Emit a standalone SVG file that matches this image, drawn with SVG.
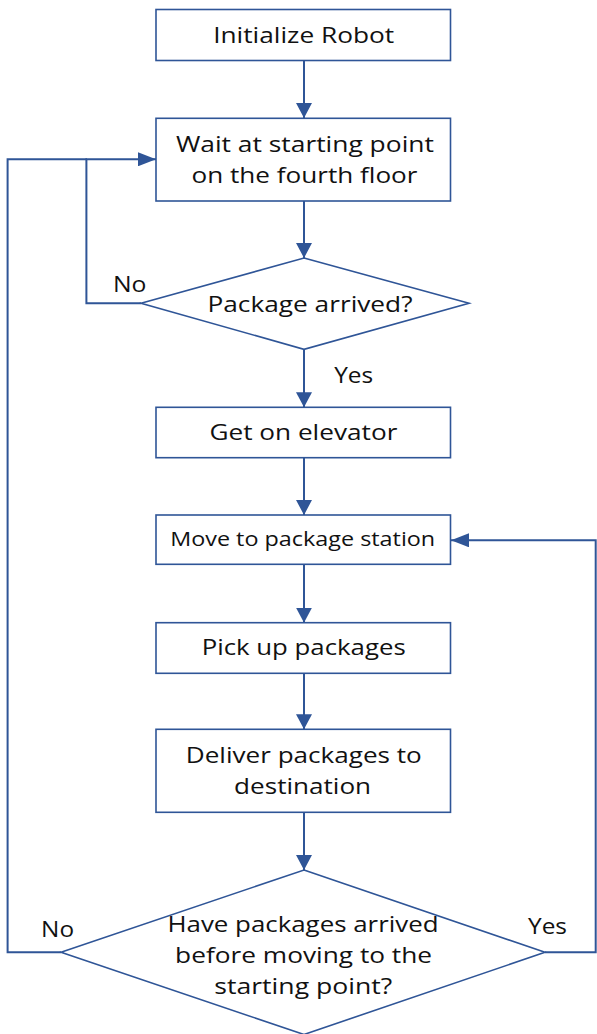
<svg xmlns="http://www.w3.org/2000/svg" width="597" height="1034" viewBox="0 0 597 1034">
<style>
.box{fill:#fff;stroke:#2F5597;stroke-width:1.6}
.ln{fill:none;stroke:#2F5597;stroke-width:2}
.t{font-family:"Open Sans","Noto Sans",sans-serif;font-size:22px;fill:#111}
.s{font-size:20px}
</style>
<defs>
<marker id="aV" markerUnits="userSpaceOnUse" markerWidth="16" markerHeight="16" refX="15" refY="8" orient="auto"><path d="M0,0 L15,8 L0,16 z" fill="#2F5597"/></marker>
<marker id="aH" markerUnits="userSpaceOnUse" markerWidth="18" markerHeight="14" refX="18" refY="7" orient="auto"><path d="M0,0 L18,7 L0,14 z" fill="#2F5597"/></marker>
</defs>
<rect width="597" height="1034" fill="#fff"/>
<g id="connectors">
<path class="ln" d="M304,60.5 V118" marker-end="url(#aV)"/>
<path class="ln" d="M304,201 V258" marker-end="url(#aV)"/>
<path class="ln" d="M304,349.3 V407.3" marker-end="url(#aV)"/>
<path class="ln" d="M304,457.7 V515" marker-end="url(#aV)"/>
<path class="ln" d="M304,564.3 V622.7" marker-end="url(#aV)"/>
<path class="ln" d="M304,673.3 V729.3" marker-end="url(#aV)"/>
<path class="ln" d="M304,812.3 V870" marker-end="url(#aV)"/>
<path class="ln" d="M141,303.3 H86.4 V159.3 H156" marker-end="url(#aH)"/>
<path class="ln" d="M61,952.3 H7.6 V159.3 H87"/>
<path class="ln" d="M545,952.3 H595.7 V540.3 H451" marker-end="url(#aH)"/>
<text class="t" x="113" y="292.3" textLength="33.5" lengthAdjust="spacingAndGlyphs">No</text>
<text class="t" x="334.2" y="383.3" textLength="39" lengthAdjust="spacingAndGlyphs">Yes</text>
<text class="t" x="41.1" y="937.3" textLength="33" lengthAdjust="spacingAndGlyphs">No</text>
<text class="t" x="528" y="934" textLength="39" lengthAdjust="spacingAndGlyphs">Yes</text>
</g>
<g id="init">
<rect class="box" x="156" y="9.5" width="294.5" height="51"/>
<text class="t" x="213.2" y="43.3" textLength="181" lengthAdjust="spacingAndGlyphs">Initialize Robot</text>
</g>
<g id="wait">
<rect class="box" x="156" y="118.3" width="294.5" height="82.7"/>
<text class="t" x="175.9" y="151.7" textLength="258" lengthAdjust="spacingAndGlyphs">Wait at starting point</text>
<text class="t" x="191.5" y="182.7" textLength="226" lengthAdjust="spacingAndGlyphs">on the fourth floor</text>
</g>
<g id="arrived">
<polygon class="box" points="304,258 469,303.3 304,349.3 141,303.3"/>
<text class="t" x="207.5" y="311.7" textLength="205" lengthAdjust="spacingAndGlyphs">Package arrived?</text>
</g>
<g id="elevator">
<rect class="box" x="156" y="407.3" width="294.5" height="50.4"/>
<text class="t" x="209.4" y="440" textLength="188" lengthAdjust="spacingAndGlyphs">Get on elevator</text>
</g>
<g id="move">
<rect class="box" x="156" y="515" width="294.5" height="49.3"/>
<text class="t s" x="170.2" y="546" textLength="265" lengthAdjust="spacingAndGlyphs">Move to package station</text>
</g>
<g id="pick">
<rect class="box" x="156" y="622.7" width="294.5" height="50.6"/>
<text class="t" x="201.7" y="655" textLength="204" lengthAdjust="spacingAndGlyphs">Pick up packages</text>
</g>
<g id="deliver">
<rect class="box" x="156" y="729.3" width="294.5" height="83"/>
<text class="t" x="185.8" y="763.3" textLength="236" lengthAdjust="spacingAndGlyphs">Deliver packages to</text>
<text class="t" x="234.1" y="794" textLength="137" lengthAdjust="spacingAndGlyphs">destination</text>
</g>
<g id="check">
<polygon class="box" points="304,870 545,952.3 304,1034.5 61,952.3"/>
<text class="t" x="167.5" y="931.7" textLength="271" lengthAdjust="spacingAndGlyphs">Have packages arrived</text>
<text class="t" x="175.1" y="962.7" textLength="257" lengthAdjust="spacingAndGlyphs">before moving to the</text>
<text class="t" x="214.3" y="994" textLength="178" lengthAdjust="spacingAndGlyphs">starting point?</text>
</g>
</svg>
